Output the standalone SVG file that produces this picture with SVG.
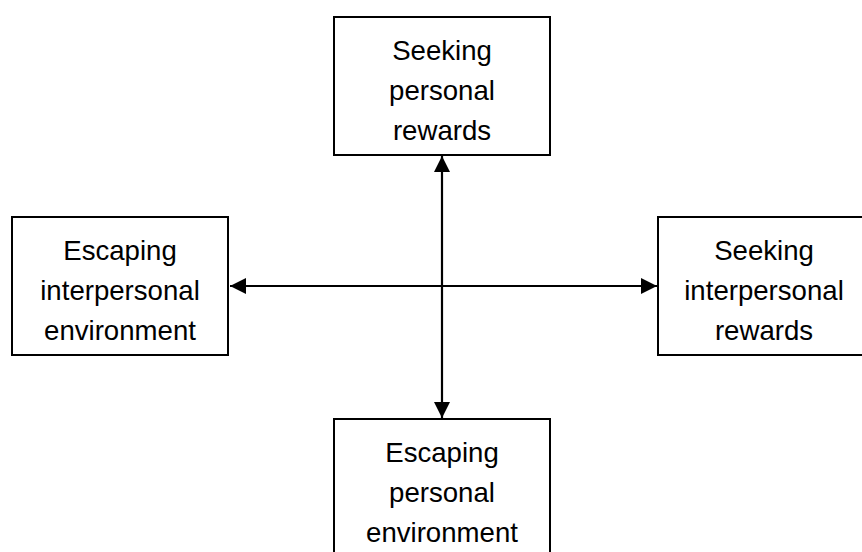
<svg xmlns="http://www.w3.org/2000/svg" width="862" height="552" viewBox="0 0 862 552">
  <style>
    .box { fill: #ffffff; stroke: #000000; stroke-width: 2; }
    .label { font-family: "Liberation Sans", Arial, sans-serif; font-size: 27.6px; fill: #000000; text-anchor: middle; }
    .link { stroke: #000000; stroke-width: 2.2; fill: none; }
  </style>
  <defs>
    <marker id="arrow" markerUnits="userSpaceOnUse" viewBox="0 0 16 16" refX="16" refY="8" markerWidth="16" markerHeight="16" orient="auto-start-reverse">
      <path d="M0,0 L16,8 L0,16 Z" fill="#000000"/>
    </marker>
  </defs>
  <rect width="862" height="552" fill="#ffffff"/>

  <g id="connectors">
    <line class="link" x1="442" y1="156" x2="442" y2="418" marker-start="url(#arrow)" marker-end="url(#arrow)"/>
    <line class="link" x1="230" y1="286" x2="657" y2="286" marker-start="url(#arrow)" marker-end="url(#arrow)"/>
  </g>

  <g id="seeking-personal-rewards">
    <rect class="box" x="334" y="17" width="216" height="138"/>
    <text class="label" x="442" y="59.5">Seeking</text>
    <text class="label" x="442" y="99.5">personal</text>
    <text class="label" x="442" y="139.5">rewards</text>
  </g>

  <g id="escaping-interpersonal-environment">
    <rect class="box" x="12" y="217" width="216" height="138"/>
    <text class="label" x="120" y="259.5">Escaping</text>
    <text class="label" x="120" y="299.5">interpersonal</text>
    <text class="label" x="120" y="339.5">environment</text>
  </g>

  <g id="seeking-interpersonal-rewards">
    <rect class="box" x="658" y="217" width="214" height="138"/>
    <text class="label" x="764" y="259.5">Seeking</text>
    <text class="label" x="764" y="299.5">interpersonal</text>
    <text class="label" x="764" y="339.5">rewards</text>
  </g>

  <g id="escaping-personal-environment">
    <rect class="box" x="334" y="419" width="216" height="150"/>
    <text class="label" x="442" y="461.5">Escaping</text>
    <text class="label" x="442" y="501.5">personal</text>
    <text class="label" x="442" y="541.5">environment</text>
  </g>
</svg>
